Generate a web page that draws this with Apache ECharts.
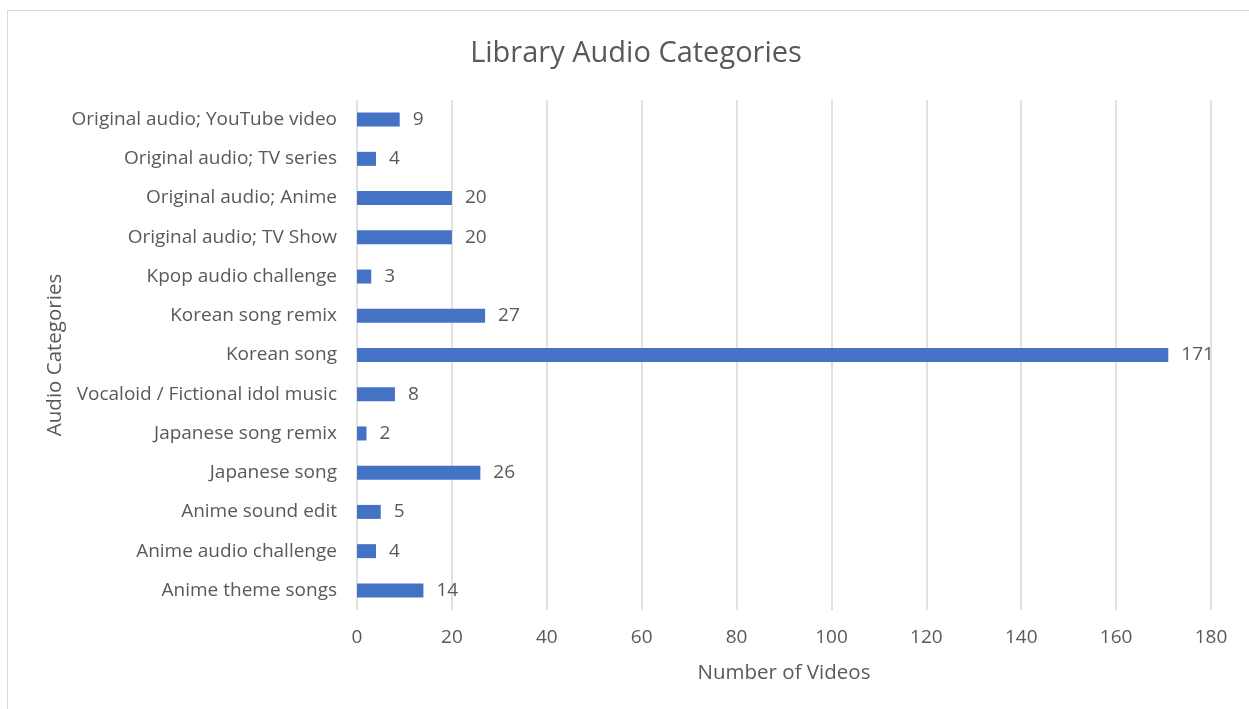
<!DOCTYPE html>
<html>
<head>
<meta charset="utf-8">
<script src="https://cdn.jsdelivr.net/npm/echarts@6/dist/echarts.min.js"></script>
<style>
html,body{margin:0;padding:0;background:#fff;}
#frame{position:absolute;left:7px;top:10px;width:1250px;height:710px;border-top:1.5px solid #d9d9d9;border-left:1.5px solid #d9d9d9;}
#chart{position:absolute;left:0;top:0;width:1249px;height:709px;}
</style>
</head>
<body>
<div id="frame"></div>
<div id="chart"></div>
<script>
const categories = [
  "Anime theme songs",
  "Anime audio challenge",
  "Anime sound edit",
  "Japanese song",
  "Japanese song remix",
  "Vocaloid / Fictional idol music",
  "Korean song",
  "Korean song remix",
  "Kpop audio challenge",
  "Original audio; TV Show",
  "Original audio; Anime",
  "Original audio; TV series",
  "Original audio; YouTube video"
];
const videoCounts = [14, 4, 5, 26, 2, 8, 171, 27, 3, 20, 20, 4, 9];
const xTicks = [0, 20, 40, 60, 80, 100, 120, 140, 160, 180];
const yAxisTitle = 'Audio Categories';

const font = "'Open Sans', sans-serif";
const chart = echarts.init(document.getElementById('chart'), null, {renderer: 'canvas'});
chart.setOption({
  animation: false,
  backgroundColor: 'transparent',
  title: {
    text: 'Library Audio Categories',
    left: 631, top: 34, textAlign: 'center',
    textStyle: {fontFamily: font, fontSize: 29, fontWeight: 'normal', color: '#595959'}
  },
  graphic: [{
    type: 'text', x: 55, y: 355, rotation: Math.PI / 2,
    style: {text: yAxisTitle, fontFamily: font, fontSize: 20.5, fill: '#595959', align: 'center', verticalAlign: 'middle'}
  }],
  grid: {left: 357, right: 38, top: 100, bottom: 99},
  xAxis: {
    type: 'value',
    min: xTicks[0], max: xTicks[xTicks.length - 1], interval: 20,
    name: 'Number of Videos', nameLocation: 'middle', nameGap: 53,
    nameTextStyle: {fontFamily: font, fontSize: 20.5, color: '#595959'},
    axisLine: {show: false}, axisTick: {show: false},
    axisLabel: {fontFamily: font, fontSize: 19, color: '#595959', margin: 18},
    splitLine: {show: true, lineStyle: {color: '#d9d9d9', width: 1.5}}
  },
  yAxis: {
    type: 'category', data: categories,
    axisLine: {show: false}, axisTick: {show: false},
    axisLabel: {fontFamily: font, fontSize: 19, color: '#595959', margin: 20}
  },
  series: [{
    type: 'bar', data: videoCounts, barWidth: 14,
    itemStyle: {color: '#4472C4'},
    label: {show: true, position: 'right', distance: 13, fontFamily: font, fontSize: 19, color: '#595959'}
  }]
});
</script>
</body>
</html>
